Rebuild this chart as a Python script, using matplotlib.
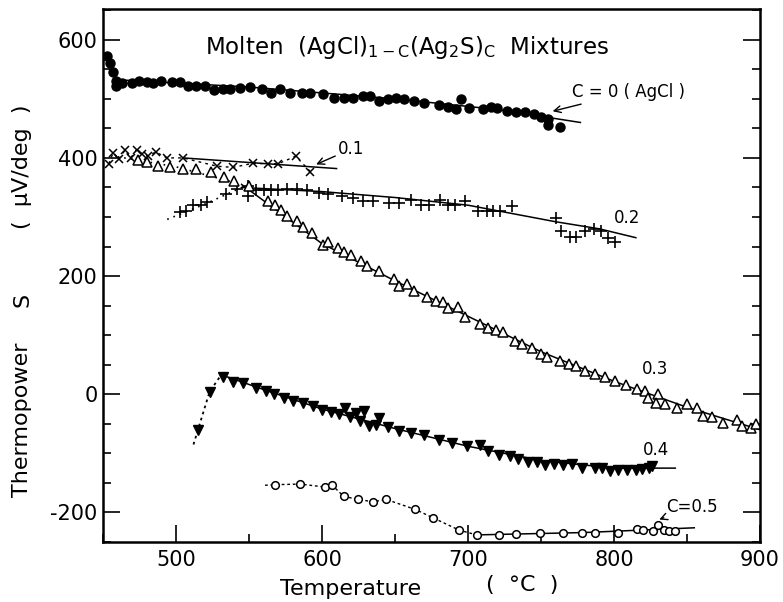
import matplotlib
matplotlib.use("Agg")
import matplotlib.pyplot as plt
from matplotlib.ticker import MultipleLocator

# C = 0 (AgCl), filled circles
c0_T = [453, 455, 457, 459, 459, 463, 470, 475, 480, 484, 490, 497, 503, 508, 514, 520,
        526, 532, 537, 544, 551, 559, 565, 571, 578, 586, 592, 601, 608, 615, 621, 628,
        633, 639, 645, 651, 656, 663, 670, 680, 686, 692, 695, 701, 710, 716, 720, 727,
        733, 739, 745, 750, 755, 755, 763]
c0_S = [573, 561, 546, 530, 521, 527, 527, 530, 528, 526, 530, 528, 528, 522, 522, 522,
        515, 517, 517, 518, 520, 517, 510, 517, 510, 510, 510, 508, 501, 501, 501, 505,
        504, 497, 499, 501, 500, 496, 493, 489, 487, 482, 500, 485, 482, 486, 485, 479,
        477, 477, 474, 470, 466, 455, 453]
c0_fit_T = [462, 550, 650, 720, 777]
c0_fit_S = [532, 520, 500, 482, 460]

# C = 0.1, crosses
c1_T = [454, 457, 461, 465, 469, 473, 477, 481, 486, 494, 505, 528, 539, 553, 563, 570, 582, 592]
c1_S = [390, 409, 398, 413, 400, 414, 406, 403, 410, 400, 400, 386, 384, 391, 390, 390, 403, 377]
c1_fit_T = [505, 610]
c1_fit_S = [400, 382]

# C = 0.2, plus signs
c2_T = [503, 507, 512, 517, 521, 534, 542, 549, 549, 555, 560, 565, 570, 576, 583, 590,
        598, 604, 614, 621, 628, 635, 646, 653, 661, 668, 673, 681, 686, 691, 698, 707,
        713, 717, 722, 730, 760, 764, 770, 774, 780, 786, 791, 796, 801]
c2_S = [309, 311, 320, 321, 326, 339, 348, 335, 352, 346, 346, 346, 346, 348, 348, 346,
        341, 339, 335, 333, 327, 327, 324, 324, 329, 321, 321, 328, 320, 320, 327, 310,
        310, 311, 311, 318, 299, 277, 266, 267, 276, 279, 276, 265, 258]
c2_dot_T = [494, 520, 545]
c2_dot_S = [296, 322, 350]
c2_fit_T = [545, 600, 650, 700, 730, 760, 790, 815]
c2_fit_S = [350, 343, 333, 320, 306, 292, 280, 265]

# C = 0.3, open triangles
c3_T = [474, 480, 488, 496, 505, 514, 524, 533, 540, 550, 563, 568, 572, 576, 583, 587,
        593, 601, 604, 611, 615, 620, 627, 631, 639, 649, 653, 658, 663, 672, 678, 683,
        686, 693, 698, 708, 714, 719, 724, 732, 737, 744, 750, 754, 763, 769, 774, 780,
        787, 794, 801, 808, 816, 821, 823, 830, 829, 835, 843, 850, 857, 861, 867, 875,
        884, 888, 894, 897]
c3_S = [397, 393, 387, 384, 382, 381, 376, 368, 361, 352, 327, 320, 312, 301, 293, 283,
        273, 252, 258, 248, 240, 236, 225, 217, 209, 195, 183, 187, 175, 164, 158, 156,
        146, 148, 130, 119, 112, 108, 106, 90, 85, 79, 68, 63, 56, 51, 47, 40,
        35, 29, 22, 15, 9, 5, -6, 1, -15, -16, -23, -17, -23, -37, -39, -49,
        -43, -54, -57, -51]
c3_dot_T = [460, 500, 545]
c3_dot_S = [402, 385, 355]
c3_fit_T = [545, 600, 650, 700, 750, 800, 850, 900]
c3_fit_S = [355, 255, 192, 132, 72, 22, -22, -60]

# C = 0.4, filled down triangles
c4_T = [515, 523, 532, 539, 546, 555, 562, 567, 574, 580, 587, 594, 600, 606, 612, 616,
        619, 623, 626, 629, 632, 637, 639, 645, 653, 661, 670, 680, 689, 699, 708, 714,
        721, 729, 734, 741, 747, 753, 759, 765, 771, 778, 787, 792, 797, 803, 809, 815,
        819, 824, 826]
c4_S = [-60, 4, 30, 21, 19, 11, 6, 0, -7, -12, -14, -20, -27, -30, -34, -24,
        -39, -31, -46, -29, -54, -52, -41, -56, -63, -65, -69, -78, -82, -88, -86, -96,
        -102, -105, -110, -114, -115, -119, -118, -119, -118, -125, -125, -125, -130, -129, -129, -129,
        -127, -125, -122]
c4_dot_T = [512, 523, 531]
c4_dot_S = [-85, 4, 33]
c4_fit_T = [531, 560, 600, 650, 700, 750, 800, 842]
c4_fit_S = [33, 8, -25, -58, -88, -112, -125, -125]

# C = 0.5, open circles
c5_T = [568, 585, 602, 607, 615, 625, 635, 644, 664, 676, 694, 706, 721, 733, 749, 765,
        778, 787, 803, 816, 820, 827, 830, 834, 838, 842]
c5_S = [-153, -152, -157, -154, -173, -178, -182, -178, -195, -209, -230, -238, -238, -237, -235, -235,
        -235, -235, -235, -228, -230, -232, -221, -230, -232, -232]
c5_dot_T = [561] + c5_T[:12]
c5_dot_S = [-154] + c5_S[:12]
c5_fit_T = [706, 780, 855]
c5_fit_S = [-238, -234, -226]

plt.rcParams['font.family'] = ['DejaVu Sans']

fig = plt.figure(figsize=(7.83, 6.02), dpi=100)
ax = fig.add_axes([0.1315, 0.0997, 0.8391, 0.8853])

lw = 1.1
k = 'black'
ax.plot(c0_fit_T, c0_fit_S, color=k, lw=lw)
ax.plot(c0_T, c0_S, 'o', color=k, ms=6.5, ls='none')

ax.plot(c1_T, c1_S, color=k, lw=1.0, ls=(0, (2, 3)))
ax.plot(c1_fit_T, c1_fit_S, color=k, lw=lw)
ax.plot(c1_T, c1_S, 'x', color=k, ms=6, mew=1.1, ls='none')

ax.plot(c2_dot_T, c2_dot_S, color=k, lw=1.2, ls=(0, (1, 3)))
ax.plot(c2_fit_T, c2_fit_S, color=k, lw=lw)
ax.plot(c2_T, c2_S, '+', color=k, ms=8, mew=1.2, ls='none')

ax.plot(c3_dot_T, c3_dot_S, color=k, lw=1.2, ls=(0, (1, 3)))
ax.plot(c3_fit_T, c3_fit_S, color=k, lw=lw)
ax.plot(c3_T, c3_S, '^', mfc='white', mec=k, ms=6.5, mew=1.1, ls='none')

ax.plot(c4_dot_T, c4_dot_S, color=k, lw=1.3, ls=(0, (1.5, 2)))
ax.plot(c4_fit_T, c4_fit_S, color=k, lw=lw)
ax.plot(c4_T, c4_S, 'v', color=k, ms=7, ls='none')

ax.plot(c5_dot_T, c5_dot_S, color=k, lw=1.0, ls=(0, (2, 2)))
ax.plot(c5_fit_T, c5_fit_S, color=k, lw=lw)
ax.plot(c5_T, c5_S, 'o', mfc='white', mec=k, ms=5.5, mew=1.1, ls='none')

ax.set_xlim(450, 900)
ax.set_ylim(-250, 652)
ax.xaxis.set_minor_locator(MultipleLocator(50))
ax.yaxis.set_minor_locator(MultipleLocator(50))
ax.set_xticks([500, 600, 700, 800, 900])
ax.set_xticklabels(['500', '600', '700', '800', '900'])
ax.set_yticks([-200, 0, 200, 400, 600])
ax.set_yticklabels(['-200', '0', '200', '400', '600'])
ax.tick_params(which='both', direction='in', right=True, top=False, labelsize=15, width=1.2)
ax.tick_params(which='major', length=12)
ax.tick_params(axis='x', which='major', pad=6)
ax.tick_params(axis='y', which='major', pad=4)
ax.tick_params(which='minor', length=6)
for sp in ax.spines.values():
    sp.set_linewidth(1.8)

# curve labels
arrow = dict(arrowstyle='->', color=k, lw=1.0, shrinkA=0, shrinkB=0)
ax.annotate('C = 0 ( AgCl )', xy=(758, 479), xytext=(771, 511), fontsize=12,
            ha='left', va='center', arrowprops=arrow)
ax.annotate('0.1', xy=(596, 389), xytext=(611, 415), fontsize=12,
            ha='left', va='center', arrowprops=arrow)
ax.text(800, 299, '0.2', fontsize=12, ha='left', va='center')
ax.text(819, 42, '0.3', fontsize=12, ha='left', va='center')
ax.text(820, -95, '0.4', fontsize=12, ha='left', va='center')
ax.annotate('C=0.5', xy=(831, -212), xytext=(836, -190), fontsize=12,
            ha='left', va='center', arrowprops=arrow)

ax.text(0.463, 0.927,
        r'Molten  (AgCl)$_{\mathrm{1-C}}$(Ag$_{\mathrm{2}}$S)$_{\mathrm{C}}$  Mixtures',
        transform=ax.transAxes, fontsize=16.5, ha='center', va='center')

# axis labels in pieces, as in the original
fig.text(351 / 783, 1 - 589 / 602, 'Temperature', fontsize=16, ha='center', va='center')
fig.text(522 / 783, 1 - 585 / 602, '(  °C  )', fontsize=16, ha='center', va='center')
fig.text(22 / 783, 1 - 420 / 602, 'Thermopower', fontsize=16, ha='center', va='center', rotation=90)
fig.text(22 / 783, 1 - 300 / 602, 'S', fontsize=16, ha='center', va='center', rotation=90)
fig.text(22 / 783, 1 - 167 / 602, '(  μV/deg  )', fontsize=16, ha='center', va='center', rotation=90)

fig.savefig('out.png', dpi=100)
